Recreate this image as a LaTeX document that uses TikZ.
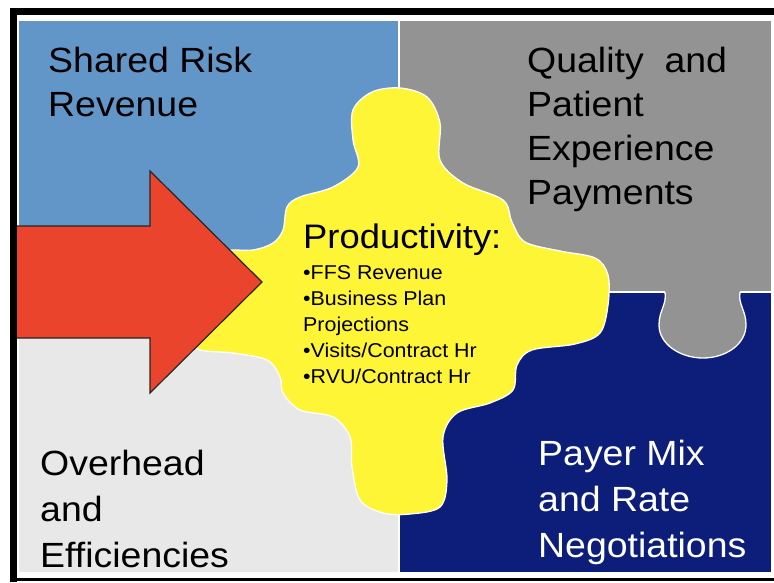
\documentclass[tikz,border=0pt]{standalone}
\usepackage{fontspec}
\setmainfont[FakeStretch=1.07]{Liberation Sans}
\usepackage{tikz}

\definecolor{riskblue}{RGB}{98,150,200}
\definecolor{qualgray}{RGB}{147,147,147}
\definecolor{overgray}{RGB}{232,232,232}
\definecolor{payerblue}{RGB}{12,30,122}
\definecolor{prodyellow}{RGB}{255,245,55}
\definecolor{arrowred}{RGB}{234,69,44}

\begin{document}
\begin{tikzpicture}[x=1pt,y=-1pt,
	seam/.style={draw=white,line width=1.3pt},
	paneltext/.style={anchor=north west,inner sep=0pt,align=left,font=\fontsize{35}{44}\selectfont},
	lowtext/.style={paneltext,font=\fontsize{35}{46}\selectfont},
	prodtitle/.style={anchor=north west,inner sep=0pt,font=\fontsize{34}{40}\selectfont},
	bullettext/.style={anchor=north west,inner sep=0pt,align=left,font=\fontsize{20}{26}\selectfont}]

	\useasboundingbox (0,0) rectangle (774,582);
	\fill[white] (0,0) rectangle (774,582);

	% the four pieces
	\filldraw[seam,fill=riskblue]  (18,20)   rectangle (399,292);
	\filldraw[seam,fill=qualgray]  (399,20)  rectangle (772,292);
	\filldraw[seam,fill=overgray]  (18,292)  rectangle (399,573);
	\filldraw[seam,fill=payerblue] (399,292) rectangle (772,573);

	% tab of the gray piece
	\fill[qualgray] (665,289) -- (665,292) .. controls (667,305) and (659,310) .. (659,325)
		.. controls (659,344) and (680,358) .. (703,358)
		.. controls (726,358) and (746,344) .. (746,325)
		.. controls (746,310) and (738,305) .. (740,292) -- (740,289) -- cycle;
	\draw[seam] (665,292) .. controls (667,305) and (659,310) .. (659,325)
		.. controls (659,344) and (680,358) .. (703,358)
		.. controls (726,358) and (746,344) .. (746,325)
		.. controls (746,310) and (738,305) .. (740,292);

	% centre piece
	\filldraw[seam,fill=prodyellow] plot[smooth cycle,tension=0.55] coordinates {
		(400,88) (427,97) (440,123) (440,160) (463,183) (503,200) (512,222) (525,242)
		(560,251) (595,258) (608,275) (608,305) (600,333) (575,344) (532,350) (517,365)
		(513,390) (490,403) (457,413) (443,437) (447,480) (440,507) (410,514) (383,513)
		(360,500) (352,467) (350,437) (333,417) (300,410) (283,393) (280,377) (267,360)
		(233,353) (195,348) (175,320) (180,275) (220,252) (253,250) (273,243) (283,230)
		(287,207) (300,197) (333,187) (358,167) (353,140) (353,110) (372,92)};

	% arrow
	\filldraw[fill=arrowred,draw=black!85,line width=1.2pt]
		(16,226) -- (150,226) -- (150,171) -- (262,282) -- (150,393) -- (150,338) -- (16,338) -- cycle;

	% frame
	\draw[line width=7pt] (13.5,582) -- (13.5,11.5) -- (774,11.5);
	\draw[line width=3pt] (10,579.5) -- (774,579.5);

	\node[paneltext] (risk)     at (48,47)  {Shared Risk\\Revenue};
	\node[paneltext] (quality)  at (527,47) {Quality\ \ and\\Patient\\Experience\\Payments};
	\node[lowtext]   (overhead) at (40,450) {Overhead\\and\\Efficiencies};
	\node[lowtext,text=white] (payer) at (538,440) {Payer Mix\\and Rate\\Negotiations};

	\node[prodtitle]  (prod)    at (303,224) {Productivity:};
	\node[bullettext] (bullets) at (303,265) {•FFS Revenue\\•Business Plan\\Projections\\•Visits/Contract Hr\\•RVU/Contract Hr};

\end{tikzpicture}
\end{document}
